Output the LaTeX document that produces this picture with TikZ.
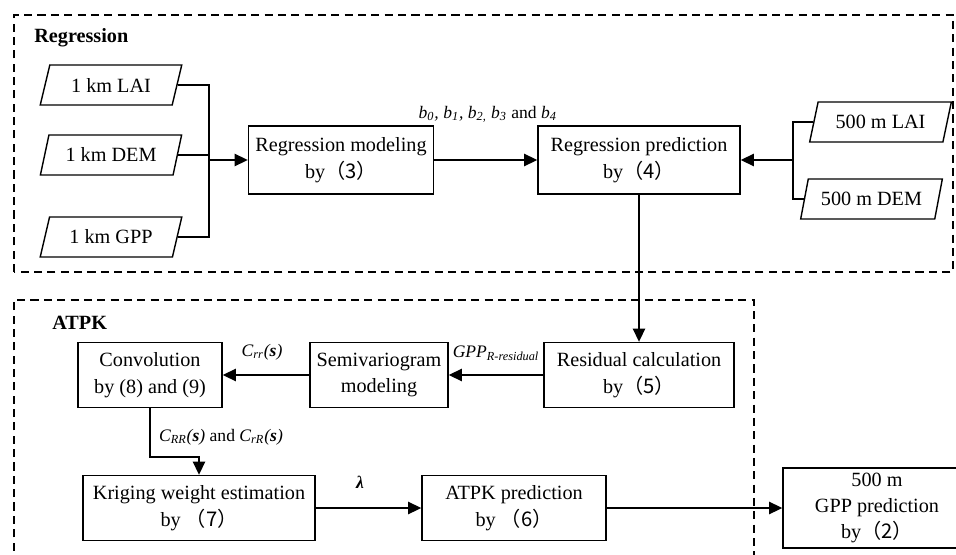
\documentclass[tikz,border=0pt]{standalone}
\usepackage{fontspec}
\setmainfont{Liberation Serif}
\newfontfamily\cjk{Noto Sans CJK SC}
\usepackage{xcolor}
\usepackage{tikz}
\usetikzlibrary{calc,arrows.meta,shapes.geometric}
\newcommand{\cjkp}[1]{{\cjk （#1）}}
\tikzset{
  line/.style={draw=black, line width=0.8pt},
  arrow/.style={line, -{Triangle[length=7.5pt,width=7pt]}},
  frame/.style={draw=black, line width=0.8pt, dash pattern=on 4.6pt off 3pt},
  proc/.style={
    line,
    align=center,
    inner sep=0pt,
    minimum height=1.30cm,
    font=\fontsize{11.5}{15}\selectfont
  },
  data/.style={
    line,
    trapezium,
    trapezium left angle=66,
    trapezium right angle=114,
    trapezium stretches=true,
    minimum width=2.84cm,
    minimum height=0.8cm,
    inner sep=0pt,
    font=\fontsize{11.5}{14}\selectfont
  },
  head/.style={anchor=west, inner sep=0pt, font=\fontsize{11.5}{14}\selectfont\bfseries},
  tag/.style={inner sep=1pt, font=\fontsize{10}{12}\selectfont}
}

\begin{document}
\begin{tikzpicture}
  \useasboundingbox (0,0) rectangle (19.12,11.08);

  % regression part
  \draw[frame] (0.28,5.64) rectangle (19.06,10.78);
  \node[head] (reghead) at (0.68,10.32) {Regression};

  \node[data] (lai1) at (2.22,9.38) {1 km LAI};
  \node[data] (dem1) at (2.22,7.98) {1 km DEM};
  \node[data] (gpp1) at (2.22,6.34) {1 km GPP};
  \coordinate (join1) at (4.18,7.88);

  \node[proc, minimum width=3.70cm, minimum height=1.36cm] (regmod) at (6.82,7.88) {Regression modeling\\by\cjkp{3}};
  \node[proc, minimum width=4.04cm, minimum height=1.36cm] (regpred) at (12.78,7.88) {Regression prediction\\by\cjkp{4}};

  \node[data] (lai5) at (17.61,8.64) {500 m LAI};
  \node[data] (dem5) at (17.43,7.10) {500 m DEM};
  \coordinate (join5) at (15.86,7.88);

  \draw[line] (lai1.east) -| (join1);
  \draw[line] (gpp1.east) -| (join1);
  \draw[line] (dem1.east) -- (dem1.east -| join1);
  \draw[arrow] (join1) -- (regmod.west);
  \draw[arrow] (regmod.east) -- (regpred.west)
    node[tag, pos=0.52, above=0.7cm] (coef) {\itshape b\textsubscript{0}, b\textsubscript{1}, b\textsubscript{2,} b\textsubscript{3} \upshape and \itshape b\textsubscript{4}};
  \draw[line] (lai5.west) -| (join5);
  \draw[line] (dem5.west) -| (join5);
  \draw[arrow] (join5) -- (regpred.east);

  % ATPK part
  \draw[frame] (0.28,-0.2) -- (0.28,5.08) -- (15.08,5.08) -- (15.08,-0.2);
  \node[head] (atpkhead) at (1.04,4.62) {ATPK};

  \node[proc, minimum width=2.88cm] (conv) at (3.00,3.58) {Convolution\\by (8) and (9)};
  \node[proc, minimum width=2.76cm] (semi) at (7.58,3.58) {Semivariogram\\modeling};
  \node[proc, minimum width=3.80cm] (resid) at (12.78,3.58) {Residual calculation\\by\cjkp{5}};
  \node[proc, minimum width=4.64cm] (krig) at (3.98,0.92) {Kriging weight estimation\\by \cjkp{7}};
  \node[proc, minimum width=3.68cm] (atpk) at (10.28,0.92) {ATPK prediction\\by \cjkp{6}};
  \node[proc, minimum width=3.76cm, minimum height=1.60cm] (out) at (17.54,0.92) {500 m\\GPP prediction\\by\cjkp{2}};
  \coordinate (bend) at (3.00,1.94);

  \draw[arrow] (regpred.south) -- (resid.north);
  \draw[arrow] (resid.west) -- (semi.east);
  \node[tag] (gpplab) at (9.92,4.02) {\itshape GPP\textsubscript{R-residual}};
  \draw[arrow] (semi.west) -- (conv.east);
  \node[tag] (crrlab) at (5.24,4.04) {\itshape C\textsubscript{rr}(\textbf{s})};
  \draw[arrow] (conv.south) -- (bend) -| (krig.north);
  \node[tag, anchor=west] (cvlab) at (3.14,2.34) {\itshape C\textsubscript{RR}(\textbf{s}) \upshape and \itshape C\textsubscript{rR}(\textbf{s})};
  \draw[arrow] (krig.east) -- (atpk.west);
  \node[tag] (lamlab) at (7.20,1.44) {\textbf{\itshape λ}};
  \draw[arrow] (atpk.east) -- (out.west);
\end{tikzpicture}
\end{document}
